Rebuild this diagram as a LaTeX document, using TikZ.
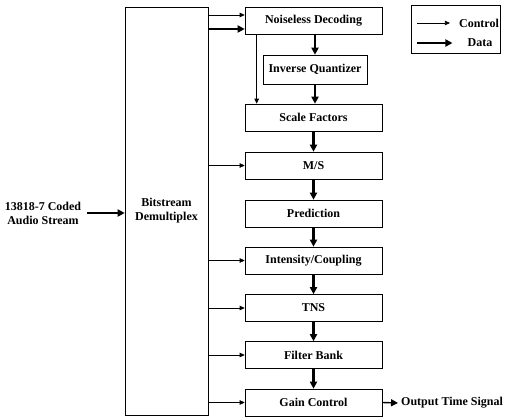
\documentclass[tikz,border=0pt]{standalone}
\usepackage{fontspec}
\setmainfont{Liberation Serif}
\usetikzlibrary{arrows.meta}
\begin{document}
\begin{tikzpicture}[x=1pt,y=-1pt,
	box/.style={draw,line width=0.6pt,minimum width=137pt,minimum height=27pt,inner sep=1pt,align=center,font=\bfseries\fontsize{12}{14}\selectfont},
	txt/.style={inner sep=1pt,align=center,font=\bfseries\fontsize{12}{14}\selectfont},
	ctrl/.style={-{Triangle[length=5pt,width=4.5pt]},line width=0.7pt},
	data/.style={-{Triangle[length=7pt,width=7pt]},line width=2.2pt}]
	\useasboundingbox (0,0) rectangle (506,417);
	\node[box,minimum width=83pt,minimum height=408pt] (demux) at (166.5,211) {Bitstream\\Demultiplex};
	\node[box] (nd) at (313.5,20.5) {Noiseless Decoding};
	\node[box,minimum width=104pt,minimum height=29pt] (iq) at (315,69.5) {Inverse Quantizer};
	\node[box] (sf) at (313.5,117.5) {Scale Factors};
	\node[box] (ms) at (313.5,165.5) {M/S};
	\node[box] (pr) at (313.5,213.5) {Prediction};
	\node[box] (ic) at (313.5,260.5) {Intensity/Coupling};
	\node[box] (tns) at (313.5,308) {TNS};
	\node[box] (fb) at (313.5,355) {Filter Bank};
	\node[box] (gc) at (313.5,402.5) {Gain Control};
	\node[txt] (in) at (43,213) {13818-7 Coded\\Audio Stream};
	\node[txt,anchor=west] (out) at (400,403) {Output Time Signal};
	\node[draw,line width=0.6pt,minimum width=89pt,minimum height=48pt] (leg) at (455.5,29) {};
	\node[txt] (lc) at (479,23) {Control};
	\node[txt] (ld) at (480,43) {Data};
	\coordinate (lc1) at (417,23);
	\coordinate (ld1) at (417,43);
	\coordinate (nd1) at ([yshift=5.5pt]nd.west);
	\coordinate (nd2) at ([yshift=-8.5pt]nd.west);
	\draw[ctrl] (nd1 -| demux.east) -- (nd1);
	\draw[data] (nd2 -| demux.east) -- (nd2);
	\draw[ctrl] ([xshift=12pt]nd.south west) -- ([xshift=12pt]sf.north west);
	\draw[ctrl] (ms.west -| demux.east) -- (ms.west);
	\draw[ctrl] (ic.west -| demux.east) -- (ic.west);
	\draw[ctrl] (tns.west -| demux.east) -- (tns.west);
	\draw[ctrl] (fb.west -| demux.east) -- (fb.west);
	\draw[ctrl] (gc.west -| demux.east) -- (gc.west);
	\draw[data] (nd.south -| iq.north) -- (iq.north);
	\draw[data] (iq.south) -- (iq.south |- sf.north);
	\draw[data] (sf) -- (ms);
	\draw[data] (ms) -- (pr);
	\draw[data] (pr) -- (ic);
	\draw[data] (ic) -- (tns);
	\draw[data] (tns) -- (fb);
	\draw[data] (fb) -- (gc);
	\draw[data] ([xshift=5pt]in.east) -- (in.east -| demux.west);
	\draw[data,line width=1.4pt] (gc.east) -- ([xshift=-2pt]out.west);
	\draw[ctrl] (lc1) -- ([xshift=-8pt]lc.west);
	\draw[data] (ld1) -- ([xshift=-14pt]ld.west);
\end{tikzpicture}
\end{document}
